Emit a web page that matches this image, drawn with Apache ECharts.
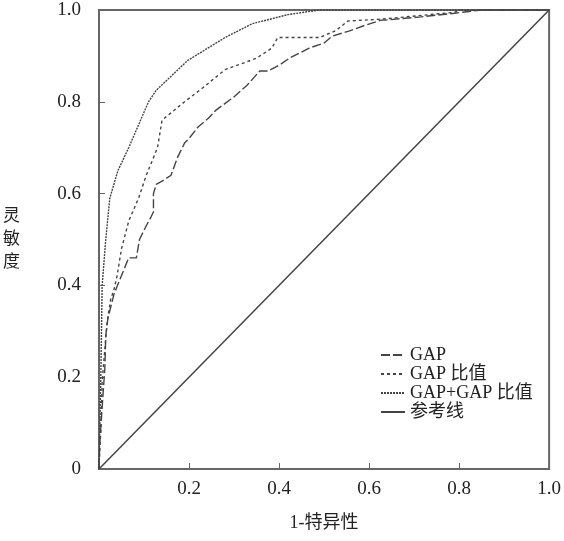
<!DOCTYPE html>
<html>
<head>
<meta charset="utf-8">
<script src="https://cdn.jsdelivr.net/npm/echarts@6/dist/echarts.min.js"></script>
<style>
  html, body { margin: 0; padding: 0; background: #fff; }
  #chart { width: 564px; height: 541px; }
</style>
</head>
<body>
<div id="chart"></div>
<script>
  // [1-specificity, sensitivity] pairs
  var gapPoints = [
    [0, 0], [0.002, 0.06], [0.006, 0.12], [0.013, 0.22], [0.015, 0.29], [0.02, 0.33],
    [0.028, 0.36], [0.033, 0.38], [0.039, 0.395], [0.066, 0.46], [0.083, 0.46],
    [0.09, 0.5], [0.105, 0.53], [0.116, 0.55], [0.121, 0.56], [0.121, 0.6],
    [0.127, 0.62], [0.145, 0.63], [0.16, 0.64], [0.175, 0.68], [0.19, 0.71],
    [0.2, 0.72], [0.22, 0.745], [0.243, 0.764], [0.26, 0.782], [0.299, 0.81],
    [0.329, 0.836], [0.357, 0.867], [0.375, 0.867], [0.401, 0.88], [0.423, 0.895],
    [0.467, 0.917], [0.5, 0.928], [0.518, 0.943], [0.555, 0.954], [0.592, 0.967],
    [0.627, 0.978], [0.636, 0.978], [0.715, 0.985], [0.79, 0.993], [0.85, 1], [1, 1]
  ];
  var ratioPoints = [
    [0, 0], [0.002, 0.05], [0.004, 0.08], [0.007, 0.19], [0.018, 0.32], [0.026, 0.37],
    [0.033, 0.39], [0.04, 0.42], [0.05, 0.48], [0.066, 0.54], [0.088, 0.59],
    [0.105, 0.64], [0.13, 0.7], [0.14, 0.76], [0.165, 0.78], [0.19, 0.8],
    [0.23, 0.83], [0.28, 0.87], [0.35, 0.895], [0.384, 0.917], [0.397, 0.94],
    [0.49, 0.94], [0.526, 0.955], [0.553, 0.976], [0.627, 0.98], [0.79, 0.995],
    [0.8, 1], [1, 1]
  ];
  var comboPoints = [
    [0, 0], [0.002, 0.1], [0.004, 0.2], [0.007, 0.4], [0.015, 0.5], [0.024, 0.59],
    [0.042, 0.65], [0.066, 0.7], [0.11, 0.8], [0.127, 0.825], [0.197, 0.89],
    [0.28, 0.94], [0.34, 0.97], [0.42, 0.99], [0.49, 1], [1, 1]
  ];
  var refPoints = [[0, 0], [1, 1]];
  var seriesNames = ["GAP", "GAP 比值", "GAP+GAP 比值", "参考线"];

  var chartDom = document.getElementById("chart");
  var myChart = echarts.init(chartDom, null, { renderer: "canvas" });
  var lineColor = "#444";
  var serif = "'Liberation Serif', 'DejaVu Serif', 'Noto Sans CJK SC', serif";

  function curve(name, data, type, width) {
    return {
      name: name,
      type: "line",
      data: data,
      symbol: "none",
      animation: false,
      lineStyle: { color: lineColor, width: width, type: type },
      itemStyle: { color: lineColor }
    };
  }

  var option = {
    backgroundColor: "#fff",
    textStyle: { fontFamily: serif },
    grid: {
      left: 97, right: 11, top: 10, bottom: 72,
      show: true, borderColor: "#666", borderWidth: 2
    },
    legend: {
      orient: "vertical",
      left: 375,
      top: 341,
      itemWidth: 24,
      itemHeight: 10,
      itemGap: 1,
      data: seriesNames,
      itemStyle: { opacity: 0 },
      textStyle: { fontFamily: serif, fontSize: 18, color: "#222" }
    },
    xAxis: {
      type: "value",
      min: 0, max: 1, interval: 0.2,
      name: "1-特异性",
      nameLocation: "middle",
      nameGap: 45,
      nameTextStyle: { fontFamily: serif, fontSize: 18, color: "#222" },
      axisLine: { show: true, lineStyle: { color: "#666", width: 2 } },
      axisTick: { show: true, inside: true, length: 6, lineStyle: { color: "#666" } },
      splitLine: { show: false },
      axisLabel: {
        margin: 11, fontSize: 19, color: "#222", fontFamily: serif,
        formatter: function (v) { return v === 0 ? "" : v.toFixed(1); }
      }
    },
    yAxis: {
      type: "value",
      min: 0, max: 1, interval: 0.2,
      name: "灵\n敏\n度",
      nameLocation: "middle",
      nameRotate: 0,
      nameGap: 79,
      nameTextStyle: { fontFamily: serif, fontSize: 17, color: "#222", lineHeight: 23 },
      axisLine: { show: true, lineStyle: { color: "#666", width: 2 } },
      axisTick: { show: true, inside: true, length: 6, lineStyle: { color: "#666" } },
      splitLine: { show: false },
      axisLabel: {
        margin: 18, fontSize: 19, color: "#222", fontFamily: serif,
        formatter: function (v) { return v === 0 ? "0" : v.toFixed(1); }
      }
    },
    series: [
      curve(seriesNames[0], gapPoints, [9, 3], 1.4),
      curve(seriesNames[1], ratioPoints, [3, 3], 1.4),
      curve(seriesNames[2], comboPoints, [2, 1], 1.4),
      curve(seriesNames[3], refPoints, "solid", 1.5)
    ]
  };
  option && myChart.setOption(option);
</script>
</body>
</html>
